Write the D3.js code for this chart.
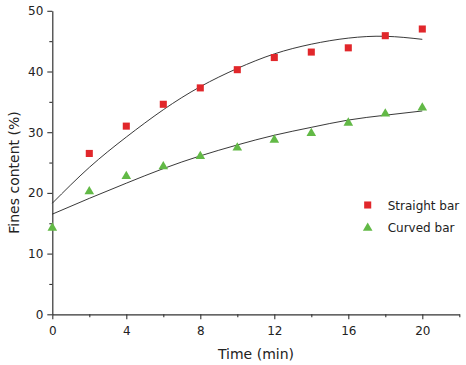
<!DOCTYPE html>
<html>
<head>
<meta charset="utf-8">
<script src="https://cdn.jsdelivr.net/npm/d3@7/dist/d3.min.js"></script>
<style>
html,body{margin:0;padding:0;background:#fff;}
svg{display:block;}
text{font-family:"DejaVu Sans",sans-serif;fill:#222;}
</style>
</head>
<body>
<svg id="chart" width="466" height="365"></svg>
<script>
// Data
const straightTime = [2, 4, 6, 8, 10, 12, 14, 16, 18, 20];
const straightValues = [26.5, 31.0, 34.6, 37.3, 40.3, 42.3, 43.2, 43.9, 45.9, 47.0];
const curvedTime = [0, 2, 4, 6, 8, 10, 12, 14, 16, 18, 20];
const curvedValues = [14.4, 20.4, 22.9, 24.5, 26.2, 27.6, 28.9, 30.0, 31.7, 33.2, 34.2];
// fitted curves
const fitTime = [0, 2, 4, 6, 8, 10, 12, 14, 16, 18, 20];
const straightFit = [18.3, 24.2, 29.2, 33.7, 37.5, 40.5, 42.9, 44.5, 45.5, 45.8, 45.3];
const curvedFit = [16.5, 19.1, 21.6, 24.0, 26.1, 27.9, 29.5, 30.8, 32.0, 32.8, 33.5];
const xMajorTicks = [0, 4, 8, 12, 16, 20];
const xMinorTicks = [2, 6, 10, 14, 18, 22];
const yMajorTicks = [0, 10, 20, 30, 40, 50];
const yMinorTicks = [5, 15, 25, 35, 45];
const seriesNames = ["Straight bar", "Curved bar"];
const seriesColors = ["#e1272b", "#62b946"];

const svg = d3.select("#chart");
const x = d3.scaleLinear().domain([0, 22]).range([52.3, 459.3]);
const y = d3.scaleLinear().domain([0, 50]).range([314.3, 10.8]);

// Axes
const axisColor = "#333";
const gx = svg.append("g").attr("transform", `translate(0,${y(0)})`);
gx.call(d3.axisBottom(x).tickValues(xMajorTicks).tickSize(5).tickPadding(7).tickSizeOuter(0).tickFormat(d3.format("d")));
const gxm = svg.append("g").attr("transform", `translate(0,${y(0)})`);
gxm.call(d3.axisBottom(x).tickValues(xMinorTicks).tickSize(3).tickSizeOuter(0).tickFormat(""));
gxm.select(".domain").remove();

const gy = svg.append("g").attr("transform", `translate(${x(0)},0)`);
gy.call(d3.axisLeft(y).tickValues(yMajorTicks).tickSize(5).tickPadding(4).tickSizeOuter(0).tickFormat(d3.format("d")));
const gym = svg.append("g").attr("transform", `translate(${x(0)},0)`);
gym.call(d3.axisLeft(y).tickValues(yMinorTicks).tickSize(3).tickSizeOuter(0).tickFormat(""));
gym.select(".domain").remove();

svg.selectAll(".domain").attr("stroke", axisColor).attr("stroke-width", 1.2);
svg.selectAll(".tick line").attr("stroke", axisColor).attr("stroke-width", 1.1);
svg.selectAll(".tick text").attr("font-family", "DejaVu Sans").attr("font-size", 12).attr("fill", "#222");

// Axis titles
svg.append("text").attr("x", 256).attr("y", 359).attr("text-anchor", "middle")
  .attr("font-size", 14).text("Time (min)");
svg.append("text").attr("transform", "translate(19,172.5) rotate(-90)").attr("text-anchor", "middle")
  .attr("font-size", 14).text("Fines content (%)");

// Fit lines
const line = d3.line().x(d => x(d[0])).y(d => y(d[1])).curve(d3.curveNatural);
svg.append("path").datum(fitTime.map((t, i) => [t, straightFit[i]]))
  .attr("d", line).attr("fill", "none").attr("stroke", "#222").attr("stroke-width", 0.9);
svg.append("path").datum(fitTime.map((t, i) => [t, curvedFit[i]]))
  .attr("d", line).attr("fill", "none").attr("stroke", "#222").attr("stroke-width", 0.9);

// Markers
const sq = d3.symbol().type(d3.symbolSquare).size(50);
const tri = d3.symbol().type(d3.symbolTriangle).size(40);
svg.append("g").selectAll("path").data(straightTime.map((t, i) => [t, straightValues[i]]))
  .join("path").attr("d", sq).attr("fill", seriesColors[0])
  .attr("transform", d => `translate(${x(d[0])},${y(d[1])})`);
svg.append("g").selectAll("path").data(curvedTime.map((t, i) => [t, curvedValues[i]]))
  .join("path").attr("d", tri).attr("fill", seriesColors[1])
  .attr("transform", d => `translate(${x(d[0])},${y(d[1]) + 1})`);

// Legend
const legend = svg.append("g");
legend.append("path").attr("d", sq).attr("fill", seriesColors[0]).attr("transform", "translate(367.7,205)");
legend.append("text").attr("x", 387.7).attr("y", 209.5).attr("font-size", 12).text(seriesNames[0]);
legend.append("path").attr("d", tri).attr("fill", seriesColors[1]).attr("transform", "translate(367.7,228)");
legend.append("text").attr("x", 387.7).attr("y", 232).attr("font-size", 12).text(seriesNames[1]);
</script>
</body>
</html>
